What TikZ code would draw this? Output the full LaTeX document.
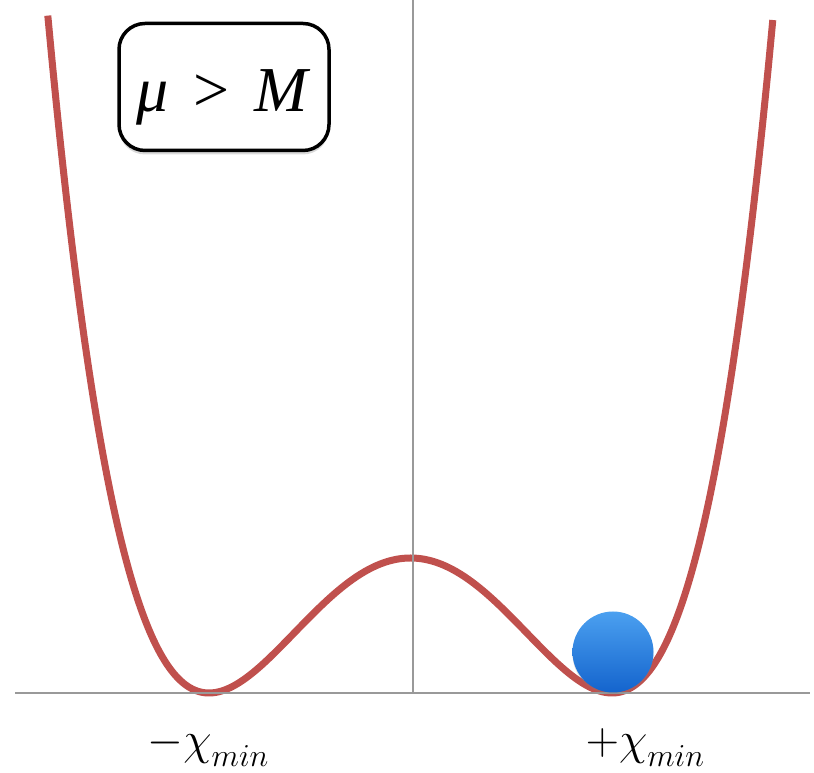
\documentclass[tikz,border=0pt]{standalone}
\usepackage{fontspec}
\setmainfont{Liberation Serif}
\usetikzlibrary{shadows}

\begin{document}
\begin{tikzpicture}[
		x=1pt,
		y=1pt,
		every node/.style={inner sep=0pt, outer sep=0pt},
		axisline/.style={draw=gray!80, line width=2pt},
		potential/.style={draw={rgb,255:red,192;green,80;blue,77}, line width=7pt},
		condbox/.style={draw=black, line width=3.5pt, rounded corners=26pt,
			minimum width=210pt, minimum height=127pt, fill=white,
			text height=63pt, text depth=14pt,
			drop shadow={shadow xshift=0pt, shadow yshift=-4pt, opacity=0.3},
			font=\fontsize{64}{64}\selectfont},
		ball/.style={circle, minimum size=81pt,
			top color={rgb,255:red,75;green,160;blue,240},
			bottom color={rgb,255:red,20;green,100;blue,205},
			drop shadow={shadow xshift=0pt, shadow yshift=-2pt, opacity=0.25}},
		minlabel/.style={anchor=base, scale=1.85, transform shape, font=\Huge}
		]
		
		\def\AxisY{80}
		\def\AxisX{413}
		\def\WellC{410.5}
		\def\WellD{201.5}
		\def\Barrier{135}
		\def\Sub#1{\raisebox{-6pt}{\LARGE$#1$}}
		
		\useasboundingbox (0,0) rectangle (814,773);
		
		% Double-well potential.
		\draw[potential]
		plot[domain=-1.8:1.8, samples=160, smooth]
		({\WellC+\WellD*\x}, {\AxisY+\Barrier*(\x*\x-1)^2});
		
		% Axes.
		\coordinate (xl) at (15,\AxisY);
		\coordinate (xr) at (810,\AxisY);
		\coordinate (yb) at (\AxisX,\AxisY);
		\coordinate (yt) at (\AxisX,773);
		\draw[axisline] (xl) -- (xr);
		\draw[axisline] (yb) -- (yt);
		
		% Ball resting in the right minimum.
		\node[ball] (ball) at (613,121) {};
		
		% Condition box.
		\node[condbox] (cond) at (224,686)
		{\textit{μ}\hspace{9pt} > \hspace{9pt}\textit{M}};
		
		% Labels of the two minima.
		\node[minlabel] (negmin) at (208,18) {$-\chi$\Sub{min}};
		\node[minlabel] (posmin) at (645,18) {$+\chi$\Sub{min}};
		
	\end{tikzpicture}
\end{document}
